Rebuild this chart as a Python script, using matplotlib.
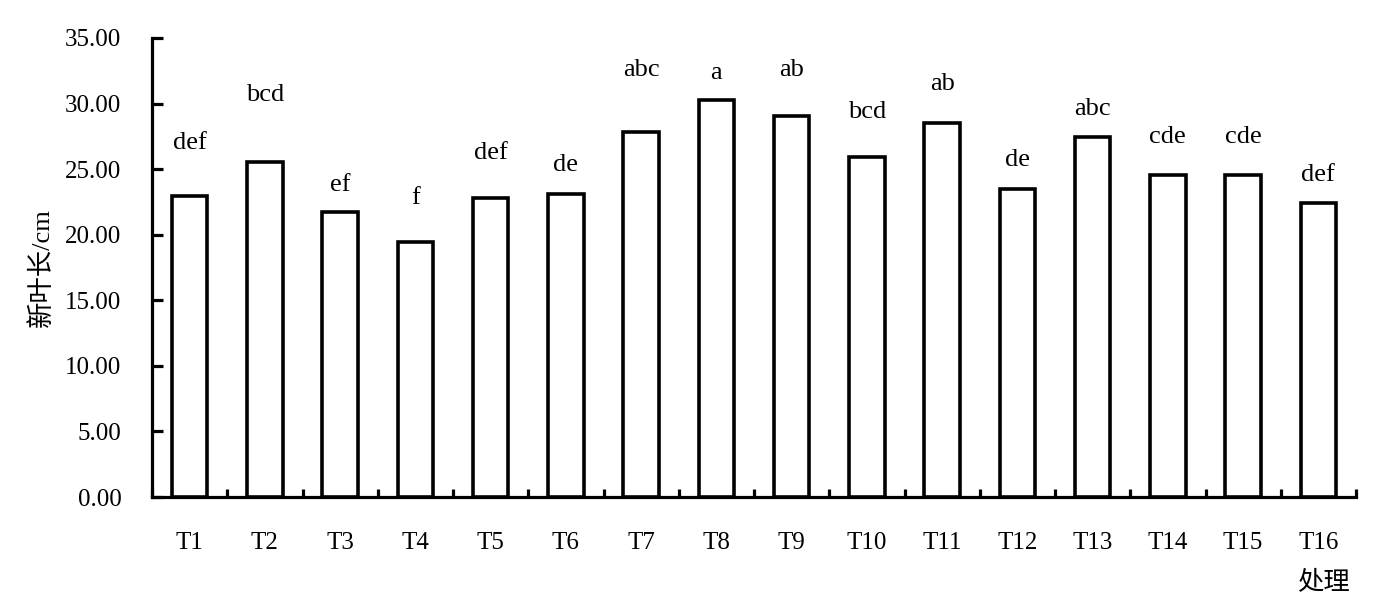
import matplotlib
matplotlib.use("Agg")
import matplotlib.pyplot as plt
import numpy as np

categories = ["T1","T2","T3","T4","T5","T6","T7","T8","T9","T10","T11","T12","T13","T14","T15","T16"]
values = [22.96, 25.55, 21.74, 19.45, 22.80, 23.10, 27.84, 30.28, 29.06, 25.93, 28.50, 23.49, 27.46, 24.56, 24.56, 22.42]
letters = ["def","bcd","ef","f","def","de","abc","a","ab","bcd","ab","de","abc","cde","cde","def"]
letter_y = [27.0, 30.66, 23.8, 22.8, 26.24, 25.3, 32.57, 32.34, 32.57, 29.37, 31.5, 25.7, 29.6, 27.46, 27.46, 24.56]
yticks = [0, 5, 10, 15, 20, 25, 30, 35]

fam = ['Liberation Serif', 'Noto Sans CJK SC']
plt.rcParams['font.family'] = fam

fig = plt.figure(figsize=(13.92, 6.09), dpi=100)
ax = fig.add_axes([152/1392, 1-497/609, (1356-152)/1392, (497-38)/609])

x = np.arange(len(categories))
ax.bar(x, values, width=0.47, facecolor='white', edgecolor='black', linewidth=2.6, zorder=3)

for xi, t, ly in zip(x, letters, letter_y):
    ax.text(xi, ly, t, ha='center', va='center', fontsize=19, family=fam)

ax.set_xlim(-0.5, len(categories) - 0.5)
ax.set_ylim(0, 35)
ax.set_yticks(yticks)
ax.set_yticklabels([f"{v:.2f}" for v in yticks], fontsize=18)
ax.set_xticks(x)
ax.set_xticklabels(categories, fontsize=18)
ax.tick_params(axis='x', which='major', length=0, pad=25)
ax.set_xticks(np.arange(-0.5, len(categories) + 0.5, 1), minor=True)
ax.tick_params(axis='x', which='minor', direction='in', length=6, width=2.3)
ax.tick_params(axis='y', direction='in', length=8, width=2.3, pad=22)

for s in ['top', 'right']:
    ax.spines[s].set_visible(False)
for s in ['left', 'bottom']:
    ax.spines[s].set_linewidth(2.3)

ax.set_ylabel("新叶长/cm", fontsize=19, labelpad=8)
fig.text(1350/1392, 1-582/609, "处理", ha='right', va='center', fontsize=19, family=fam)

fig.savefig("out.png", dpi=100)
